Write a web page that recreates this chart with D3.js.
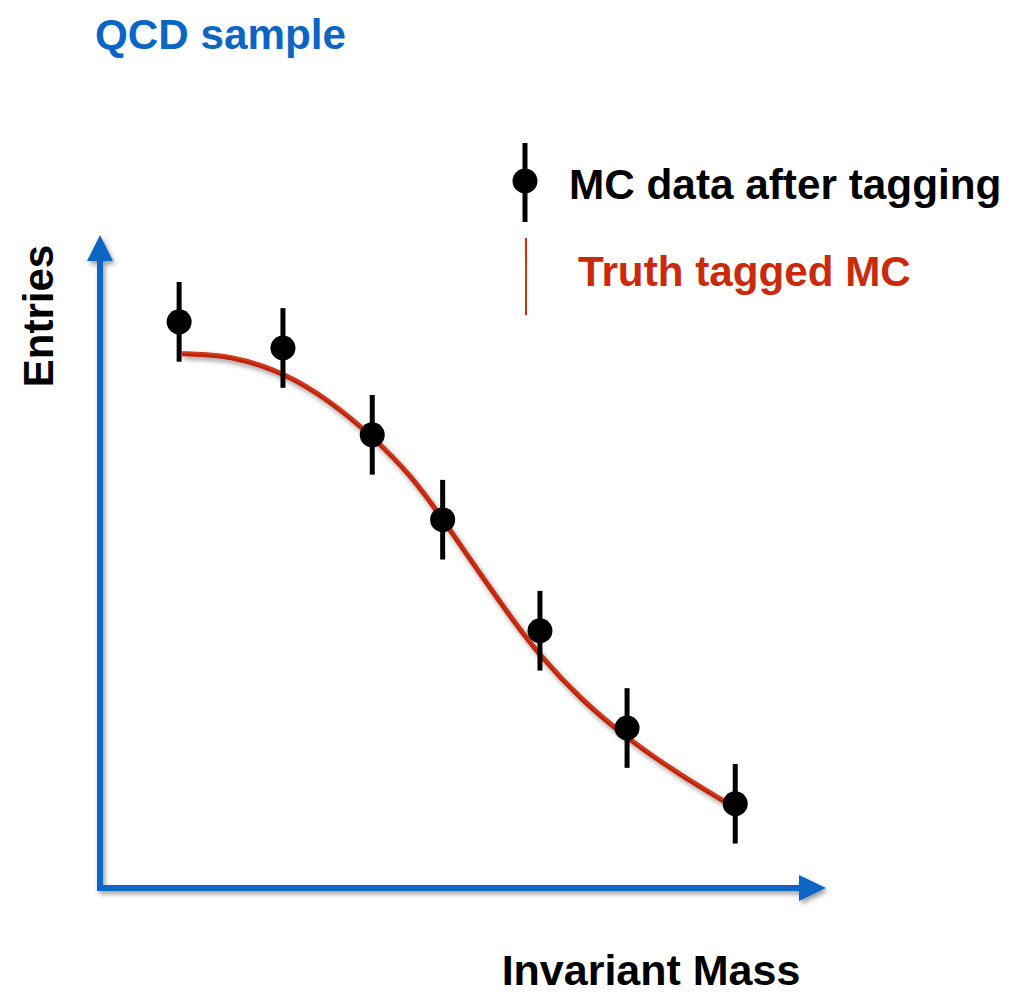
<!DOCTYPE html>
<html>
<head>
<meta charset="utf-8">
<script src="https://cdn.jsdelivr.net/npm/d3@7"></script>
<style>
  html, body { margin: 0; padding: 0; background: #ffffff; }
  svg text { font-family: "Liberation Sans", Arial, Helvetica, sans-serif; font-weight: bold; }
</style>
</head>
<body>
<script>
// Tagged MC points (invariant mass, entries, symmetric error)
const massBins   = [10.9, 25.2, 37.5, 47.2, 60.6, 72.6, 87.5];
const entries    = [86.7, 82.7, 69.4, 56.4, 39.4, 24.5, 12.9];
const entryErrs  = [6.1, 6.1, 6.1, 6.1, 6.1, 6.1, 6.1];

// Truth-tagged MC shape
const truthMass    = [11.3, 17.9, 25.2, 31.7, 37.5, 43.0, 47.2, 52.3, 57.0, 60.6, 66.1, 72.6, 79.9, 86.1];
const truthEntries = [81.8, 81.6, 79.0, 74.6, 69.2, 63.0, 56.5, 48.2, 40.8, 35.6, 29.0, 22.9, 17.3, 13.2];

// Labels
const titleText   = "QCD sample";
const xAxisLabel  = "Invariant Mass";
const yAxisLabel  = "Entries";
const legendItems = ["MC data after tagging", "Truth tagged MC"];

const W = 1009, H = 995;
const BLUE = "#0b66c3", RED = "#c92a0b", INK = "#000000";

const svg = d3.select("body").append("svg")
  .attr("width", W).attr("height", H);

const defs = svg.append("defs");
const shadow = defs.append("filter").attr("id", "shadow")
  .attr("x", "-10%").attr("y", "-10%").attr("width", "130%").attr("height", "130%");
shadow.append("feDropShadow")
  .attr("dx", 2).attr("dy", 3).attr("stdDeviation", 2.4)
  .attr("flood-color", "#000").attr("flood-opacity", 0.4);

const x = d3.scaleLinear().domain([0, 100]).range([100, 826]);
const y = d3.scaleLinear().domain([0, 100]).range([888, 235]);

// Axes with arrowheads
const axes = svg.append("g").attr("filter", "url(#shadow)");
const [x0, x1] = x.range();
const [y0, y1] = y.range();
axes.append("line")
  .attr("x1", x0 - 3).attr("x2", x1 - 20)
  .attr("y1", y0).attr("y2", y0)
  .attr("stroke", BLUE).attr("stroke-width", 6);
axes.append("path")
  .attr("d", `M${x1},${y0} L${x1 - 27},${y0 - 13} L${x1 - 27},${y0 + 13} Z`)
  .attr("fill", BLUE);
axes.append("line")
  .attr("x1", x0).attr("x2", x0)
  .attr("y1", y0 + 3).attr("y2", y1 + 20)
  .attr("stroke", BLUE).attr("stroke-width", 6);
axes.append("path")
  .attr("d", `M${x0},${y1} L${x0 - 13},${y1 + 26} L${x0 + 13},${y1 + 26} Z`)
  .attr("fill", BLUE);

// Truth curve, drawn as a hand-sketched red stroke
const truth = truthMass.map((m, i) => [m, truthEntries[i]]);
const line = d3.line().x(d => x(d[0])).y(d => y(d[1])).curve(d3.curveBasis);
const curveG = svg.append("g");
curveG.append("path")
  .attr("d", line(truth))
  .attr("fill", "none").attr("stroke", RED).attr("stroke-width", 5)
  .attr("stroke-linecap", "butt")
  .attr("filter", "url(#shadow)");
[-1.6, 1.4].forEach((off, k) => {
  curveG.append("path")
    .attr("d", line(truth))
    .attr("transform", `translate(${off * 0.5},${off})`)
    .attr("fill", "none").attr("stroke", k ? "#a82008" : "#d8482a")
    .attr("stroke-width", 1.2).attr("stroke-opacity", 0.7);
});

// Data points with error bars
const pts = svg.append("g");
massBins.forEach((m, i) => {
  pts.append("line")
    .attr("x1", x(m)).attr("x2", x(m))
    .attr("y1", y(entries[i] + entryErrs[i])).attr("y2", y(entries[i] - entryErrs[i]))
    .attr("stroke", INK).attr("stroke-width", 5);
  pts.append("circle")
    .attr("cx", x(m)).attr("cy", y(entries[i])).attr("r", 12.5)
    .attr("fill", INK);
});

// Title
svg.append("text")
  .attr("x", 95).attr("y", 49)
  .attr("font-size", 42.2).attr("fill", BLUE)
  .text(titleText);

// Legend
const leg = svg.append("g");
leg.append("line")
  .attr("x1", 525).attr("x2", 525).attr("y1", 143).attr("y2", 222)
  .attr("stroke", INK).attr("stroke-width", 5);
leg.append("circle").attr("cx", 525).attr("cy", 181).attr("r", 12.5).attr("fill", INK);
leg.append("text")
  .attr("x", 569).attr("y", 199)
  .attr("font-size", 42.3).attr("fill", INK)
  .text(legendItems[0]);
leg.append("line")
  .attr("x1", 526).attr("x2", 526).attr("y1", 238).attr("y2", 315)
  .attr("stroke", RED).attr("stroke-width", 2);
leg.append("line")
  .attr("x1", 525.2).attr("x2", 526.4).attr("y1", 242).attr("y2", 311)
  .attr("stroke", "#d8482a").attr("stroke-width", 1).attr("stroke-opacity", 0.7);
leg.append("text")
  .attr("x", 578).attr("y", 286)
  .attr("font-size", 42.2).attr("fill", RED)
  .text(legendItems[1]);

// Axis titles
svg.append("text")
  .attr("x", 651).attr("y", 985)
  .attr("text-anchor", "middle")
  .attr("font-size", 43).attr("fill", INK)
  .text(xAxisLabel);
svg.append("text")
  .attr("transform", "translate(53,316) rotate(-90)")
  .attr("text-anchor", "middle")
  .attr("font-size", 42).attr("fill", INK)
  .text(yAxisLabel);
</script>
</body>
</html>
